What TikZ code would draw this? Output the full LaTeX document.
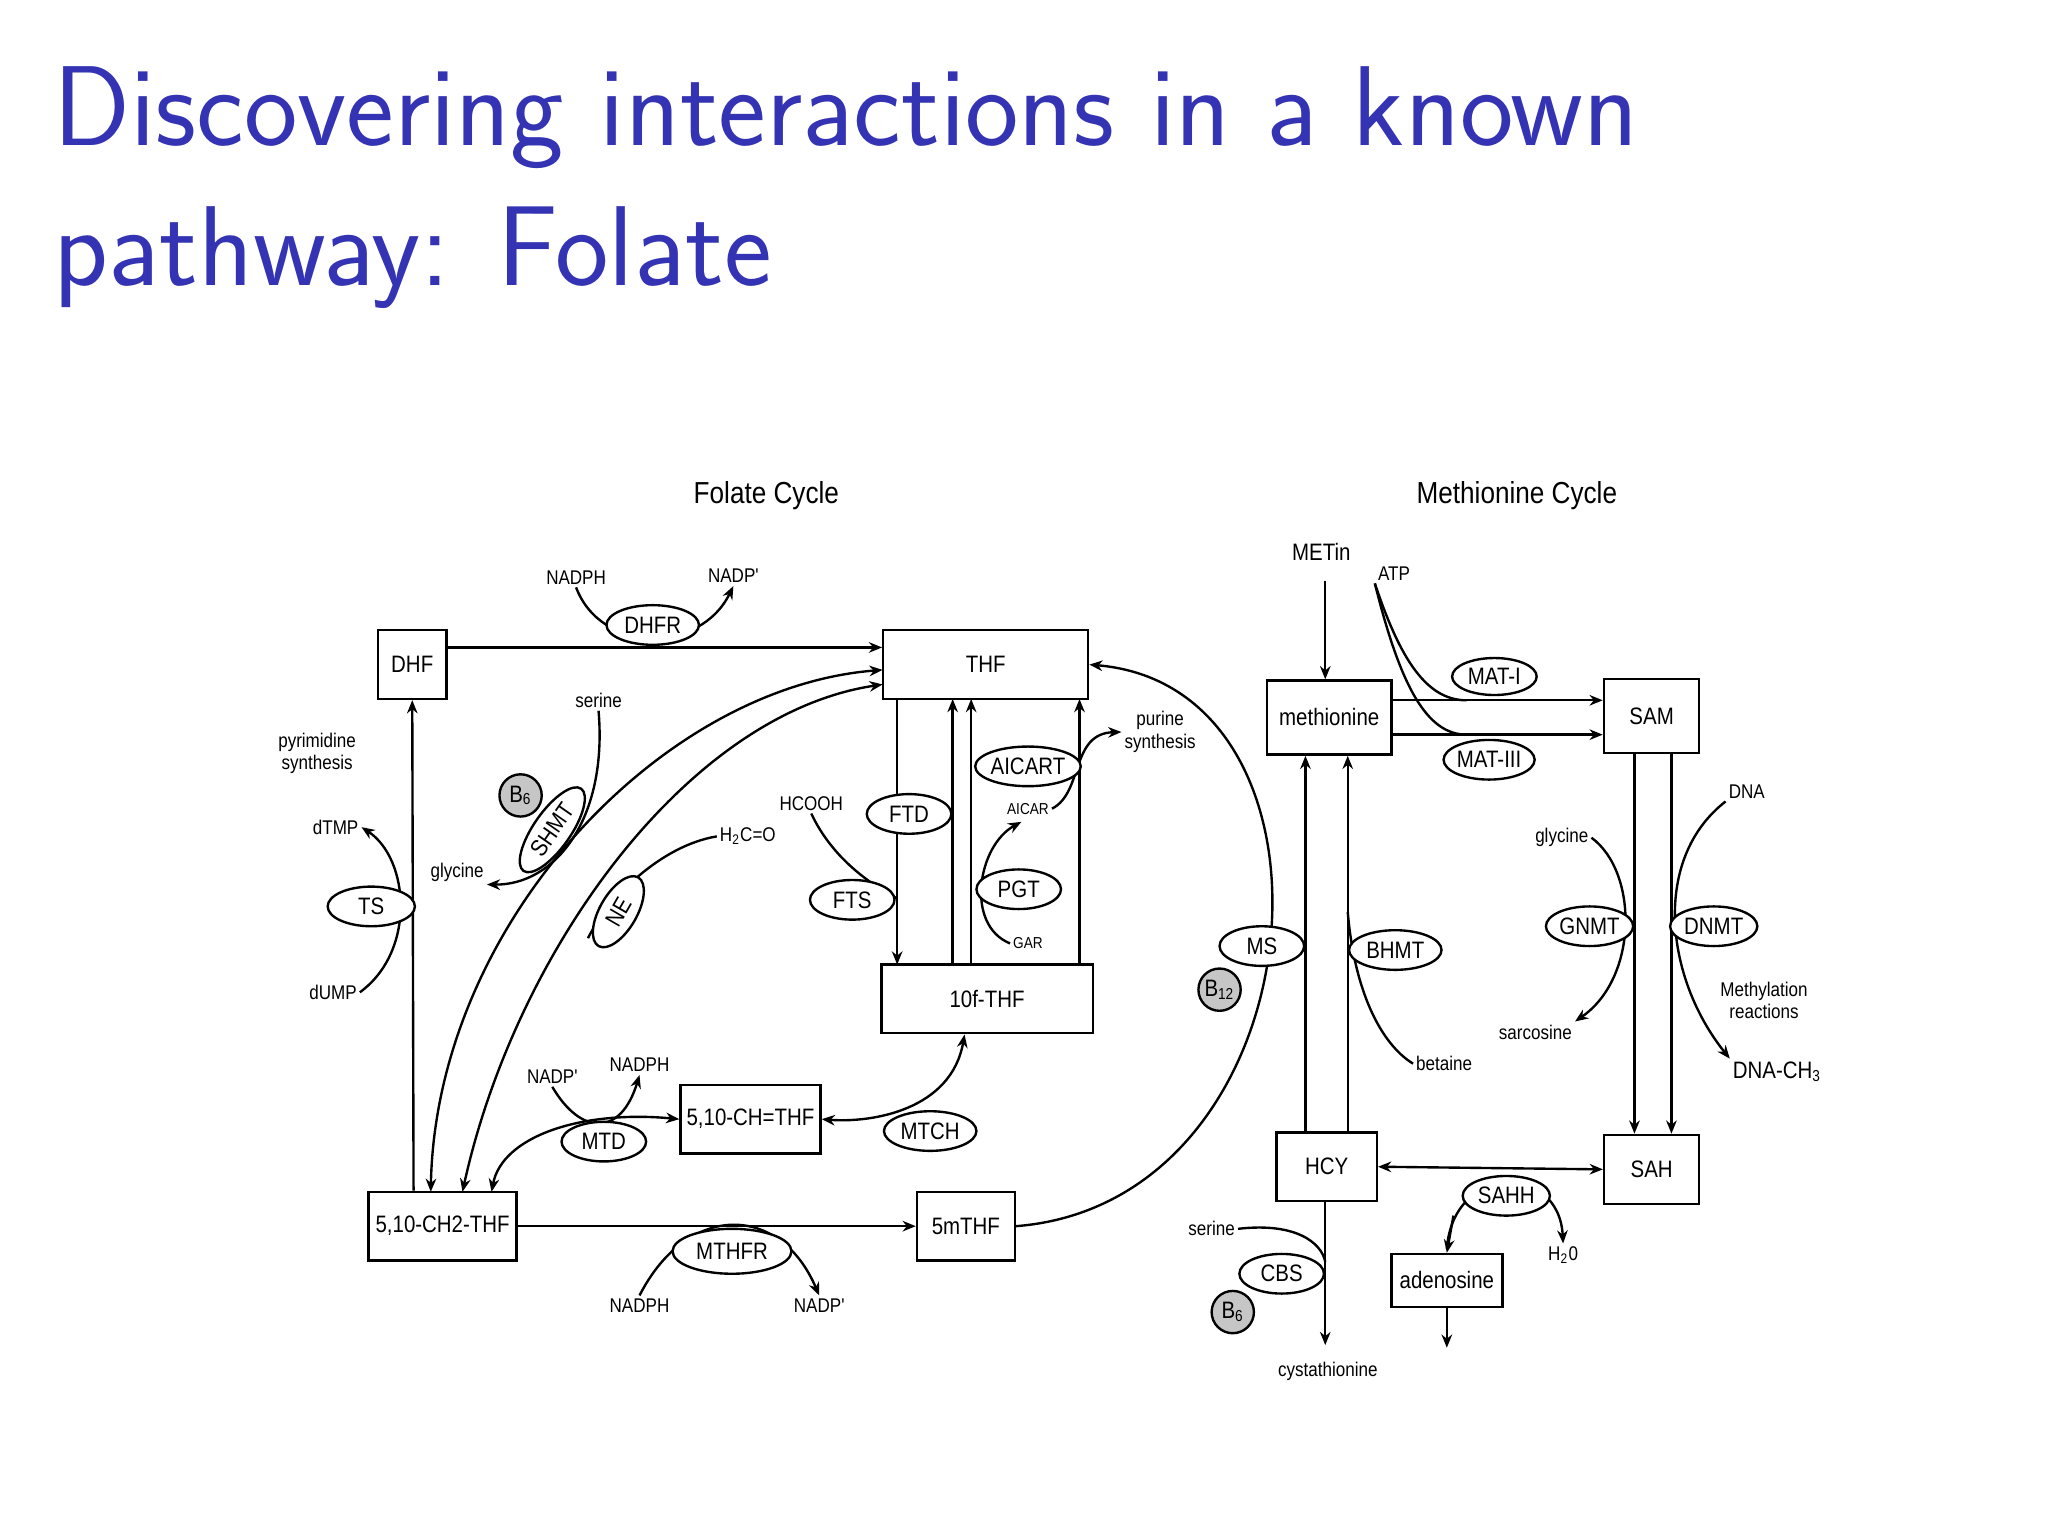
\documentclass[tikz,border=0pt]{standalone}
\usepackage{fontspec}
\newfontfamily\lab[FakeStretch=0.86]{Liberation Sans}
\usetikzlibrary{shapes.geometric,arrows.meta}
\definecolor{titleblue}{RGB}{51,51,179}
\begin{document}
\begin{tikzpicture}[x=0.5pt,y=-0.5pt,
  box/.style={draw,line width=0.9pt,minimum width=#1*0.5pt,minimum height=26pt,inner sep=0pt,font=\lab\fontsize{9}{10}\selectfont},
  enz/.style={draw,ellipse,line width=0.9pt,minimum width=#1*0.5pt,minimum height=15pt,inner sep=0pt,fill=white,font=\lab\fontsize{9}{10}\selectfont},
  cof/.style={draw,circle,fill=gray!45,minimum size=16pt,inner sep=0pt,line width=0.9pt,font=\lab\fontsize{9}{10}\selectfont},
  lbl/.style={font=\lab\fontsize{7.5}{8.5}\selectfont,align=center,inner sep=1pt},
  hd/.style={font=\lab\fontsize{11.5}{13}\selectfont},
  ln/.style={line width=0.9pt},
  ar/.style={line width=0.9pt,-{Stealth[length=5pt,width=4pt]}},
  ba/.style={line width=0.9pt,{Stealth[length=5pt,width=4pt]}-{Stealth[length=5pt,width=4pt]}}]
\useasboundingbox (0,0) rectangle (1550,1162.5);
\node[anchor=base west,font=\sffamily\fontsize{43}{50}\selectfont,text=titleblue,inner sep=0pt] (t1) at (40,110) {Discovering interactions in a known};
\node[anchor=base west,font=\sffamily\fontsize{43}{50}\selectfont,text=titleblue,inner sep=0pt] (t2) at (40,216) {pathway: Folate};
\node[hd] (fc) at (580,375) {Folate Cycle};
\node[hd] (mc) at (1148,375) {Methionine Cycle};
% boxes
\node[box=52] (DHF) at (312,503) {DHF};
\node[box=155] (THF) at (746,503) {THF};
\node[box=94,minimum height=28pt] (met) at (1006,543) {methionine};
\node[box=72,minimum height=28pt] (SAM) at (1250,542) {SAM};
\node[box=160] (f10) at (747,756) {10f-THF};
\node[box=106] (ch) at (568,847) {5,10-CH=THF};
\node[box=112] (ch2) at (335,928) {5,10-CH2-THF};
\node[box=74] (m5) at (731,928) {5mTHF};
\node[box=76] (HCY) at (1004,883) {HCY};
\node[box=72] (SAH) at (1250,885) {SAH};
\node[box=84,minimum height=20pt] (ade) at (1095,969) {adenosine};
% labels
\node[lbl] (nadph1) at (436,437) {NADPH};
\node[lbl] (nadp1) at (555,436) {NADP'};
\node[lbl] (pyr) at (240,570) {pyrimidine\\synthesis};
\node[lbl] (dtmp) at (254,626) {dTMP};
\node[lbl] (dump) at (252,751) {dUMP};
\node[lbl] (gly1) at (346,660) {glycine};
\node[lbl] (ser1) at (453,530) {serine};
\node[lbl] (hco) at (566,633) {H\textsubscript{2}C=O};
\node[lbl] (hcooh) at (614,608) {HCOOH};
\node[lbl,font=\lab\fontsize{6}{7}\selectfont] (aicar) at (778,612) {AICAR};
\node[lbl,font=\lab\fontsize{6}{7}\selectfont] (gar) at (778,714) {GAR};
\node[lbl] (pur) at (878,554) {purine\\synthesis};
\node[lbl] (nadp2) at (418,815) {NADP'};
\node[lbl] (nadph2) at (484,806) {NADPH};
\node[lbl] (nadph3) at (484,988) {NADPH};
\node[lbl] (nadp3) at (620,988) {NADP'};
\node[lbl,font=\lab\fontsize{9}{10}\selectfont] (metin) at (1000,418) {METin};
\node[lbl] (atp) at (1055,434) {ATP};
\node[lbl] (dna) at (1322,599) {DNA};
\node[lbl] (gly2) at (1182,634) {glycine};
\node[lbl] (sarc) at (1162,781) {sarcosine};
\node[lbl] (methr) at (1335,757) {Methylation\\reactions};
\node[lbl,font=\lab\fontsize{9}{10}\selectfont] (dnach) at (1345,811) {DNA-CH\textsubscript{3}};
\node[lbl] (bet) at (1093,805) {betaine};
\node[lbl] (ser2) at (917,930) {serine};
\node[lbl] (cyst) at (1005,1038) {cystathionine};
\node[lbl] (h2o) at (1183,950) {H\textsubscript{2}0};
% coordinates
\coordinate (a1) at (1003,440);
\coordinate (a2) at (1095,1020);
% main arrows
\draw[ar] (DHF.east |- 0,490) -- (THF.west |- 0,490);
\draw[ar] (ch2.north -| 313,0) -- (DHF.south);
\draw[ba] (326,902) .. controls (330,700) and (500,520) .. (668,507);
\draw[ba] (350,902) .. controls (390,720) and (520,540) .. (668,518);
\draw[ar] (679,529) -- (679,730);
\draw[ar] (721,730) -- (721,529);
\draw[ar] (735,730) -- (735,529);
\draw[ar] (817,730) -- (817,529);
\draw[ar] (ch2.east) -- (m5.west);
\draw[ar] (m5.east) .. controls (1000,910) and (1030,520) .. (THF.east);
\draw[ba] (f10.south -| 730,0) .. controls (720,840) and (660,850) .. (ch.east);
\draw[ba] (ch.west) .. controls (440,840) and (380,860) .. (372,902);
\draw[ar] (a1) -- (met.north -| 1003,0);
\draw[ar] (1053,530) -- (1213,530);
\draw[ar] (1053,556) -- (1213,556);
\draw[ar] (1237,570) -- (1237,858);
\draw[ar] (1265,570) -- (1265,858);
\draw[ba] (HCY.east) -- (SAH.west);
\draw[ar] (988,857) -- (988,572);
\draw[ar] (1020,857) -- (1020,572);
\draw[ar] (1003,909) -- (1003,1018);
\draw[ar] (ade.south) -- (a2);
% side reactions
\draw[ar] (nadph1.south) .. controls (455,495) and (530,495) .. (nadp1.south);
\draw[ar] (dump.east) .. controls (315,720) and (310,650) .. (dtmp.east);
\draw[ar] (ser1.south) .. controls (460,620) and (420,670) .. (gly1.south east);
\draw[ln] (hco.west) .. controls (500,640) and (460,680) .. (445,710);
\draw[ln] (hcooh.south) .. controls (630,650) and (660,670) .. (679,680);
\draw[ar] (aicar.east) .. controls (820,600) and (810,555) .. (pur.west);
\draw[ar] (gar.west) .. controls (730,700) and (740,640) .. (773,622);
\draw[ar] (nadp2.south) .. controls (440,860) and (470,860) .. (nadph2.south);
\draw[ar] (nadph3.north) .. controls (520,910) and (590,910) .. (nadp3.north);
\draw[ln] (atp.south west) .. controls (1060,500) and (1080,530) .. (1110,530);
\draw[ln] (atp.south west) .. controls (1060,520) and (1080,556) .. (1110,556);
\draw[ar] (gly2.east) .. controls (1240,660) and (1240,740) .. (sarc.north east);
\draw[ar] (dna.south west) .. controls (1250,650) and (1260,740) .. (dnach.north west);
\draw[ln] (1020,690) .. controls (1025,750) and (1045,790) .. (bet.west);
\draw[ar] (1095,945) .. controls (1100,880) and (1180,880) .. (h2o.north);
\draw[ar] (1100,920) -- (ade.north);
\draw[ln] (ser2.east) .. controls (980,925) and (1000,940) .. (1003,955);
% enzymes
\node[enz=70] (DHFR) at (494,473) {DHFR};
\node[enz=66] (TS) at (281,686) {TS};
\node[enz=76,minimum height=14pt,rotate=55] (SHMT) at (418,628) {SHMT};
\node[cof] (B6a) at (394,602) {B\textsubscript{6}};
\node[enz=60,minimum height=14pt,rotate=60] (NE) at (468,690) {NE};
\node[enz=64] (FTD) at (688,616) {FTD};
\node[enz=64] (FTS) at (645,681) {FTS};
\node[enz=72] (AICART) at (778,580) {AICART};
\node[enz=64] (PGT) at (771,673) {PGT};
\node[enz=64] (MTD) at (457,864) {MTD};
\node[enz=70] (MTCH) at (704,856) {MTCH};
\node[enz=90,minimum height=17pt] (MTHFR) at (554,947) {MTHFR};
\node[enz=64,minimum height=14pt] (MATI) at (1131,512) {MAT-I};
\node[enz=64] (MATIII) at (1127,575) {MAT-III};
\node[enz=64] (MS) at (955,716) {MS};
\node[cof] (B12) at (923,749) {B\textsubscript{12}};
\node[enz=70] (BHMT) at (1056,719) {BHMT};
\node[enz=66] (GNMT) at (1203,701) {GNMT};
\node[enz=66] (DNMT) at (1297,701) {DNMT};
\node[enz=64] (CBS) at (970,964) {CBS};
\node[cof] (B6b) at (933,993) {B\textsubscript{6}};
\node[enz=66] (SAHH) at (1140,905) {SAHH};
\end{tikzpicture}
\end{document}
